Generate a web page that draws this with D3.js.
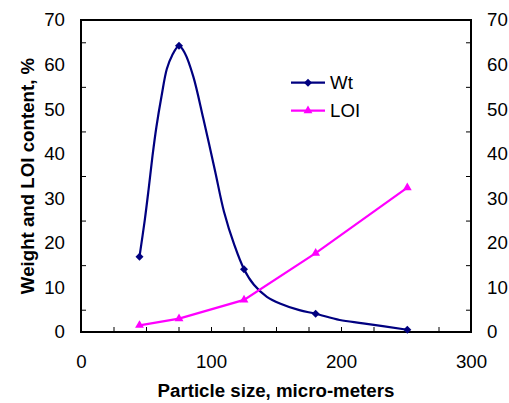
<!DOCTYPE html>
<html>
<head>
<meta charset="utf-8">
<script src="https://cdn.jsdelivr.net/npm/d3@7"></script>
<style>
  body { margin: 0; background: #fff; }
  svg { display: block; font-family: "Liberation Sans", Arial, sans-serif; }
</style>
</head>
<body>
<svg></svg>
<script>
// data
const sizes = [45, 75.4, 125.4, 180.5, 251];
const wtValues = [16.9, 64.2, 14.1, 4.1, 0.5];
const loiValues = [1.5, 3.0, 7.2, 17.7, 32.4];
// points along the smoothed Wt line
const wtCurveX = [45, 49, 52, 55, 58, 62, 66, 70, 75.4, 80, 86.4, 94, 103, 110, 118, 125.4, 133, 143, 153, 168, 180.5, 199, 217, 251];
const wtCurveY = [16.9, 25, 32, 39.5, 46, 53, 59, 62, 64.2, 62.5, 57.3, 48, 36.3, 27, 19.5, 14.1, 10.6, 7.9, 6.4, 4.9, 4.1, 2.7, 1.95, 0.5];
const xTicks = [0, 100, 200, 300];
const xMinorTicks = [25, 50, 75, 100, 125, 150, 175, 200, 225, 250, 275];
const yTicks = [0, 10, 20, 30, 40, 50, 60, 70];
const yMinorTicks = [5, 15, 25, 35, 45, 55, 65];
const seriesNames = ["Wt", "LOI"];

const width = 509;
const height = 403;
const margin = { top: 20, left: 81, bottom: 71, right: 38 };
const font = "18.7px";

const svg = d3.select("svg")
  .attr("width", width)
  .attr("height", height);

const x = d3.scaleLinear().domain([0, 300]).range([margin.left, width - margin.right]);
const y = d3.scaleLinear().domain([0, 70]).range([height - margin.bottom, margin.top]);

//minor ticks, pointing into the plot
svg.append("g")
  .attr("transform", `translate(0,${y(0)})`)
  .call(d3.axisTop(x).tickValues(xMinorTicks).tickSize(5).tickFormat(""))
  .call(g => g.select(".domain").remove());

svg.append("g")
  .attr("transform", `translate(${x(0)},0)`)
  .call(d3.axisRight(y).tickValues(yMinorTicks).tickSize(5).tickFormat(""))
  .call(g => g.select(".domain").remove());

svg.append("g")
  .attr("transform", `translate(${x(300)},0)`)
  .call(d3.axisLeft(y).tickValues(yMinorTicks).tickSize(5).tickFormat(""))
  .call(g => g.select(".domain").remove());

//tick labels
const yLeft = svg.append("g")
  .attr("transform", `translate(${x(0)},0)`)
  .call(d3.axisLeft(y).tickValues(yTicks).tickSize(0).tickPadding(16));

const yRight = svg.append("g")
  .attr("transform", `translate(${x(300)},0)`)
  .call(d3.axisRight(y).tickValues(yTicks).tickSize(0).tickPadding(16));

const xBottom = svg.append("g")
  .attr("transform", `translate(0,${y(0)})`)
  .call(d3.axisBottom(x).tickValues(xTicks).tickSize(0).tickPadding(23));

[yLeft, yRight, xBottom].forEach(g => {
  g.select(".domain").remove();
  g.selectAll("text")
    .attr("fill", "#000")
    .style("font-size", font)
    .style("font-family", '"Liberation Sans", Arial, sans-serif');
});

//frame
svg.append("rect")
  .attr("x", x(0))
  .attr("y", y(70))
  .attr("width", x(300) - x(0))
  .attr("height", y(0) - y(70))
  .attr("fill", "none")
  .attr("stroke", "#000")
  .attr("stroke-width", 2);

//Wt line
const wtCurve = wtCurveX.map((d, i) => [d, wtCurveY[i]]);
svg.append("path")
  .datum(wtCurve)
  .attr("fill", "none")
  .attr("stroke", "#000080")
  .attr("stroke-width", 2.2)
  .attr("d", d3.line().x(d => x(d[0])).y(d => y(d[1])).curve(d3.curveCatmullRom.alpha(0.5)));

//LOI line
svg.append("path")
  .datum(sizes.map((d, i) => [d, loiValues[i]]))
  .attr("fill", "none")
  .attr("stroke", "#FF00FF")
  .attr("stroke-width", 2.2)
  .attr("d", d3.line().x(d => x(d[0])).y(d => y(d[1])));

const diamond = "M0,-4L4,0L0,4L-4,0Z";
const triangle = d3.symbol().type(d3.symbolTriangle).size(34)();

svg.selectAll(".wt")
  .data(sizes)
  .enter()
  .append("path")
    .attr("transform", (d, i) => `translate(${x(d)},${y(wtValues[i])})`)
    .attr("d", diamond)
    .attr("fill", "#000080");

svg.selectAll(".loi")
  .data(sizes)
  .enter()
  .append("path")
    .attr("transform", (d, i) => `translate(${x(d)},${y(loiValues[i])})`)
    .attr("d", triangle)
    .attr("fill", "#FF00FF");

//legend
const legendColors = ["#000080", "#FF00FF"];
const legendShapes = [diamond, triangle];
seriesNames.forEach((name, i) => {
  const ly = 82.7 + i * 28;
  svg.append("line")
    .attr("x1", 291).attr("x2", 325)
    .attr("y1", ly).attr("y2", ly)
    .attr("stroke", legendColors[i])
    .attr("stroke-width", 2.2);
  svg.append("path")
    .attr("transform", `translate(308,${ly})`)
    .attr("d", legendShapes[i])
    .attr("fill", legendColors[i]);
  svg.append("text")
    .attr("x", 330)
    .attr("y", ly + 6.5)
    .style("font-size", font)
    .text(name);
});

//axis titles
svg.append("text")
  .attr("x", (x(0) + x(300)) / 2)
  .attr("y", 396.5)
  .attr("text-anchor", "middle")
  .style("font-size", font)
  .style("font-weight", "bold")
  .text("Particle size, micro-meters");

svg.append("text")
  .attr("transform", `translate(33.5,${(y(0) + y(70)) / 2}) rotate(-90)`)
  .attr("text-anchor", "middle")
  .style("font-size", font)
  .style("font-weight", "bold")
  .text("Weight and LOI content, %");
</script>
</body>
</html>
